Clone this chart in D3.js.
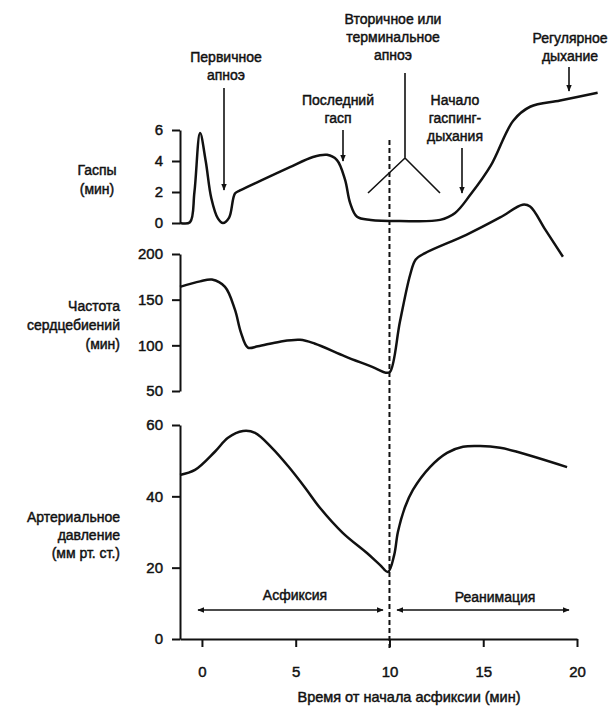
<!DOCTYPE html>
<html>
<head>
<meta charset="utf-8">
<script src="https://cdn.jsdelivr.net/npm/d3@7"></script>
<style>
  body { margin: 0; background: #fff; }
  text { font-family: "Liberation Sans", Arial, sans-serif; fill: #111; stroke: #111; stroke-width: 0.45px; }
</style>
</head>
<body>
<div id="chart"></div>
<script>
// time (min) and values
var gaspTime = [-1.17, -0.64, -0.4, -0.1, 0.2, 0.5, 0.85, 1.12, 1.45, 1.76, 2.03, 3.25, 4.69, 5.92, 6.67, 7.2, 7.63, 7.9, 8.27, 9.0, 10.56, 12.7, 13.5, 14.3, 15.4, 16.6, 17.5, 19.1, 21.1];
var gaspValues = [0, 0.05, 2.0, 5.8, 4.0, 1.6, 0.3, 0, 0.35, 1.9, 2.1, 2.8, 3.6, 4.26, 4.4, 4.06, 2.8, 1.3, 0.4, 0.2, 0.13, 0.2, 0.65, 1.8, 3.7, 6.6, 7.5, 7.9, 8.4];

var hrTime = [-1.17, -0.1, 0.53, 1.23, 1.76, 2.08, 2.45, 2.99, 4.16, 5.23, 6.0, 7.63, 9.23, 9.8, 10.03, 10.56, 11.1, 11.4, 11.9, 14.1, 15.9, 17.1, 17.5, 18.3, 19.25];
var hrValues = [164, 170, 172, 164, 139, 114, 97.5, 99, 104, 106, 102, 88, 75, 70, 71, 126, 177, 194, 201, 221, 240, 254, 252, 227, 197];

var bpTime = [-1.17, -0.37, 0.69, 1.39, 2.19, 2.83, 3.73, 4.59, 5.49, 6.29, 7.52, 8.8, 9.49, 9.92, 10.25, 10.45, 10.83, 11.25, 12.16, 13.07, 13.92, 14.83, 15.9, 16.8, 19.47];
var bpValues = [46, 47.4, 52.5, 56.4, 58.3, 57.8, 53.6, 48.5, 42.5, 36.8, 29.7, 24.1, 20.8, 18.8, 23.5, 30, 37, 41.8, 48.2, 52.2, 53.9, 54.1, 53.6, 52.5, 48.2];

var xTicks = [0, 5, 10, 15, 20];
var gaspTicks = [0, 2, 4, 6];
var hrTicks = [50, 100, 150, 200];
var bpTicks = [0, 20, 40, 60];

var gaspLabel = ["Гаспы", "(мин)"];
var hrLabel = ["Частота", "сердцебиений", "(мин)"];
var bpLabel = ["Артериальное", "давление", "(мм рт. ст.)"];

var width = 614, height = 706;

var svg = d3.select("#chart")
  .append("svg")
    .attr("width", width)
    .attr("height", height);

svg.append("defs").append("marker")
    .attr("id", "head")
    .attr("viewBox", "0 0 10 10")
    .attr("refX", 9).attr("refY", 5)
    .attr("markerWidth", 7).attr("markerHeight", 7)
    .attr("markerUnits", "userSpaceOnUse")
    .attr("orient", "auto-start-reverse")
  .append("path")
    .attr("d", "M0,1L10,5L0,9Z")
    .attr("fill", "#111");

var x = d3.scaleLinear().domain([-1.17, 20]).range([180, 577]);
var yG = d3.scaleLinear().domain([0, 6]).range([223, 130]);
var yH = d3.scaleLinear().domain([50, 200]).range([391, 254]);
var yB = d3.scaleLinear().domain([0, 60]).range([639, 425]);

function styleAxis(g) {
  g.selectAll("path, line").attr("stroke", "#111").attr("stroke-width", 2);
  g.selectAll("text")
    .style("font-family", "Liberation Sans, Arial, sans-serif")
    .style("font-size", "15px")
    .attr("fill", "#111");
}

// y axes
[[yG, gaspTicks], [yH, hrTicks], [yB, bpTicks]].forEach(function (p) {
  svg.append("g")
    .attr("transform", "translate(180,0)")
    .call(d3.axisLeft(p[0]).tickValues(p[1]).tickFormat(d3.format("d"))
      .tickSize(8).tickSizeOuter(0).tickPadding(9))
    .call(styleAxis);
});

// x axis
svg.append("g")
  .attr("transform", "translate(0,639)")
  .call(d3.axisBottom(x).tickValues(xTicks).tickSize(8).tickSizeOuter(0).tickPadding(19))
  .call(styleAxis);

svg.append("text")
  .attr("x", 409).attr("y", 702)
  .attr("text-anchor", "middle")
  .style("font-size", "14.5px")
  .text("Время от начала асфиксии (мин)");

// axis titles
function block(lines, xp, yp, anchor, step) {
  var t = svg.append("text")
    .attr("text-anchor", anchor)
    .style("font-size", "14px");
  lines.forEach(function (s, i) {
    t.append("tspan").attr("x", xp).attr("y", yp + i * step).text(s);
  });
}
block(gaspLabel, 97, 175, "middle", 19);
block(hrLabel, 120, 311, "end", 19);
block(bpLabel, 120, 522, "end", 18);

// dashed line at 10 min
svg.append("line")
  .attr("x1", x(10)).attr("x2", x(10))
  .attr("y1", 140).attr("y2", 648)
  .attr("stroke", "#111")
  .attr("stroke-width", 2)
  .attr("stroke-dasharray", "5,3");

// curves
var series = [
  [gaspTime, gaspValues, yG],
  [hrTime, hrValues, yH],
  [bpTime, bpValues, yB]
];
series.forEach(function (s) {
  var pts = s[0].map(function (t, i) { return [t, s[1][i]]; });
  var line = d3.line()
    .x(function (d) { return x(d[0]); })
    .y(function (d) { return s[2](d[1]); })
    .curve(d3.curveCatmullRom.alpha(0.5));
  svg.append("path")
    .datum(pts)
    .attr("d", line)
    .attr("fill", "none")
    .attr("stroke", "#111")
    .attr("stroke-width", 2.5)
    .attr("stroke-linejoin", "round");
});

// annotations
block(["Первичное", "апноэ"], 226, 62, "middle", 18);
block(["Последний", "гасп"], 338, 105, "middle", 18);
block(["Вторичное или", "терминальное", "апноэ"], 393, 24, "middle", 18);
block(["Начало", "гаспинг-", "дыхания"], 455, 105, "middle", 18);
block(["Регулярное", "дыхание"], 570, 43, "middle", 18);

function arrow(x1, y1, x2, y2, both) {
  var l = svg.append("line")
    .attr("x1", x1).attr("y1", y1).attr("x2", x2).attr("y2", y2)
    .attr("stroke", "#111").attr("stroke-width", 1.6)
    .attr("marker-end", "url(#head)");
  if (both) l.attr("marker-start", "url(#head)");
}
arrow(224, 88, 224, 190);
arrow(343, 130, 343, 161);
arrow(462, 148, 462, 193);
arrow(569, 67, 569, 91);

// Y-shaped pointer for secondary apnoea
svg.append("path")
  .attr("d", "M405,73L405,158M368,193L405,158L440,193")
  .attr("fill", "none")
  .attr("stroke", "#111")
  .attr("stroke-width", 1.6);

// phase arrows
arrow(198, 610, 383, 610, true);
arrow(397, 610, 569, 610, true);
svg.append("text").attr("x", 295).attr("y", 600).attr("text-anchor", "middle")
  .style("font-size", "14px").text("Асфиксия");
svg.append("text").attr("x", 495).attr("y", 602).attr("text-anchor", "middle")
  .style("font-size", "14px").text("Реанимация");
</script>
</body>
</html>
